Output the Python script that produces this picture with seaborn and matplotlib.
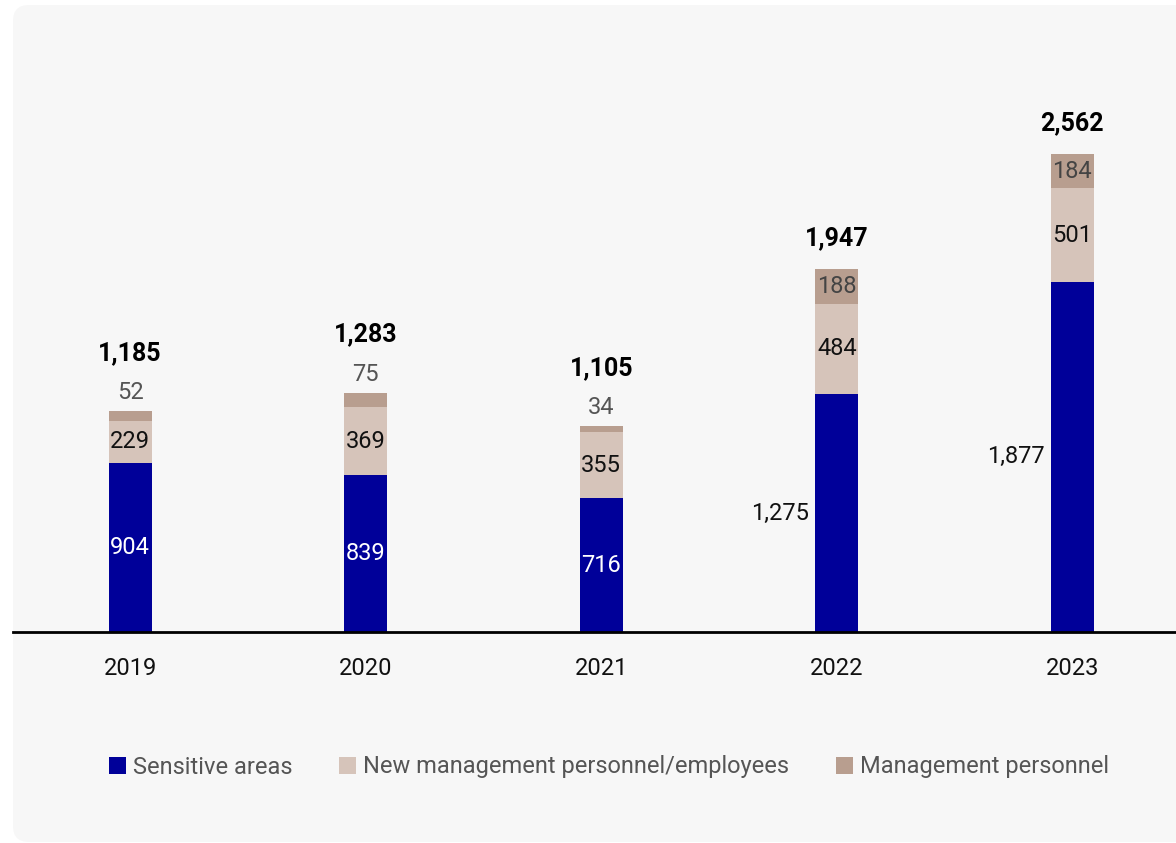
import numpy as np
import pandas as pd
import matplotlib
matplotlib.use("Agg")
import matplotlib.pyplot as plt
from matplotlib.patches import FancyBboxPatch, Patch
import seaborn as sns

# ---- data ----
years = ["2019", "2020", "2021", "2022", "2023"]
sensitive = [904, 839, 716, 1275, 1877]
new_mgmt = [229, 369, 355, 484, 501]
mgmt = [52, 75, 34, 188, 184]
totals = [1185, 1283, 1105, 1947, 2562]
series_names = ["Sensitive areas", "New management personnel/employees", "Management personnel"]

# label style for the blue segment (inside vs to the left)
blue_label_left = [False, False, False, True, True]

C_BLUE = "#000099"
C_NEW = "#d6c4ba"
C_MGMT = "#b89e8f"

sns.set_theme(style="white")
plt.rcParams["font.family"] = ["Roboto", "DejaVu Sans"]

W, H = 1176, 843
fig = plt.figure(figsize=(W / 100, H / 100), dpi=100)
fig.patch.set_facecolor("white")

# rounded light panel
panel = FancyBboxPatch((13, 1), W + 40, H - 5 - 1,
                       boxstyle="round,pad=0,rounding_size=16",
                       transform=None, facecolor="#f7f7f7", edgecolor="none", zorder=0)
fig.add_artist(panel)

ax_bottom = (H - 632) / H
ax_top = (H - 4) / H
ax = fig.add_axes([13 / W, ax_bottom, 1 - 13 / W, ax_top - ax_bottom])
ax.set_facecolor("none")

df = pd.DataFrame({"year": years, "sensitive": sensitive, "new": new_mgmt, "mgmt": mgmt})
df["cum_new"] = df["sensitive"] + df["new"]
df["cum_all"] = df["cum_new"] + df["mgmt"]

bw = 0.183
sns.barplot(data=df, x="year", y="cum_all", color=C_MGMT, saturation=1, width=bw,
            linewidth=0, ax=ax, zorder=2)
sns.barplot(data=df, x="year", y="cum_new", color=C_NEW, saturation=1, width=bw,
            linewidth=0, ax=ax, zorder=3)
sns.barplot(data=df, x="year", y="sensitive", color=C_BLUE, saturation=1, width=bw,
            linewidth=0, ax=ax, zorder=4)

px_per_unit = 478 / 2562
ax.set_ylim(0, 628 / px_per_unit)
ax.set_xlim(-0.497, 4.44)

fs = 17
fsb = 18
for i in range(len(years)):
    s, n, m, t = sensitive[i], new_mgmt[i], mgmt[i], totals[i]
    # blue
    if blue_label_left[i]:
        ax.annotate(f"{s:,}", (i - bw / 2, s / 2), xytext=(-6, 0), textcoords="offset pixels",
                    ha="right", va="center", fontsize=fs, color="#111111", zorder=6)
    else:
        ax.text(i, s / 2, f"{s:,}", ha="center", va="center", fontsize=fs,
                color="white", zorder=6)
    # new management
    ax.text(i, s + n / 2, f"{n:,}", ha="center", va="center", fontsize=fs,
            color="#111111", zorder=6)
    # management
    top = s + n + m
    if m * px_per_unit < 25:
        ax.annotate(f"{m:,}", (i, top), xytext=(0, 18), textcoords="offset pixels",
                    ha="center", va="center", fontsize=fs, color="#555555", zorder=6)
        off = 58
    else:
        ax.text(i, s + n + m / 2, f"{m:,}", ha="center", va="center", fontsize=fs,
                color="#444444", zorder=6)
        off = 31
    ax.annotate(f"{t:,}", (i, top), xytext=(0, off), textcoords="offset pixels",
                ha="center", va="center", fontsize=fsb, fontweight="bold",
                color="#000000", zorder=6)

for sp in ["top", "right", "left"]:
    ax.spines[sp].set_visible(False)
ax.spines["bottom"].set_color("#000000")
ax.spines["bottom"].set_linewidth(2)
ax.spines["bottom"].set_zorder(7)
ax.set_yticks([])
ax.set_xlabel("")
ax.set_ylabel("")
ax.tick_params(axis="x", length=0, pad=18, labelsize=fs, labelcolor="#111111")
ax.grid(False)

handles = [Patch(facecolor=c, edgecolor="none") for c in (C_BLUE, C_NEW, C_MGMT)]
leg = fig.legend(handles, series_names, loc="center",
                 bbox_to_anchor=(609 / W, 1 - 767 / H), ncol=3, frameon=False,
                 fontsize=fs, handlelength=0.7, handleheight=0.7,
                 handletextpad=0.3, columnspacing=2.0, labelcolor="#555555")

fig.savefig("out.png", dpi=100, facecolor="white")
